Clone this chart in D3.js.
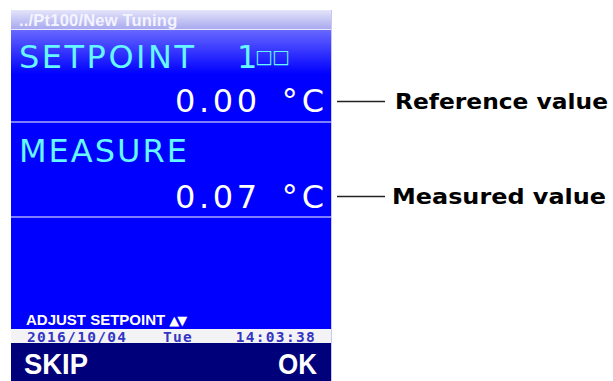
<!DOCTYPE html>
<meta charset="utf-8">
<style>
    body { margin: 0; background: #fff; }
    text { font-family: "DejaVu Sans", Verdana, sans-serif; }
</style>
<svg width="613" height="381"></svg>
<script src="https://d3js.org/d3.v7.min.js"></script>
<script>

    // screen content
    var path = "../Pt100/New Tuning";
    var rows = ["SETPOINT", "MEASURE"];
    var values = ["0.00", "0.07"];
    var unit = "°C";
    var channel = "1";
    var notes = ["Reference value", "Measured value"];
    var hint = "ADJUST SETPOINT";
    var dateParts = ["2016/10/04", "Tue", "14:03:38"];
    var keys = ["SKIP", "OK"];

    var svg = d3.select("svg"),
        scr = {left: 11, right: 331, top: 10, bottom: 381};

    var defs = svg.append("defs");
    var g1 = defs.append("linearGradient").attr("id", "hdr").attr("x1", 0).attr("x2", 0).attr("y1", 0).attr("y2", 1);
    g1.append("stop").attr("offset", "0%").attr("stop-color", "#e4e4fa");
    g1.append("stop").attr("offset", "100%").attr("stop-color", "#a9a9ef");
    var g2 = defs.append("linearGradient").attr("id", "blu").attr("x1", 0).attr("x2", 0).attr("y1", 0).attr("y2", 1);
    g2.append("stop").attr("offset", "0%").attr("stop-color", "#6a6aff");
    g2.append("stop").attr("offset", "100%").attr("stop-color", "#0000ff");

    // rows on the screen
    var y = d3.scaleLinear().domain([0, 1]).range([0, 95]);

    // blue body
    svg.append("rect").attr("x", scr.left).attr("y", 29).attr("width", scr.right - scr.left).attr("height", 301)
        .attr("fill", "#0000ff");
    svg.append("rect").attr("x", scr.left).attr("y", 29).attr("width", scr.right - scr.left).attr("height", 45)
        .attr("fill", "url(#blu)");

    // header
    svg.append("rect").attr("x", scr.left).attr("y", scr.top).attr("width", scr.right - scr.left).attr("height", 19)
        .attr("fill", "url(#hdr)");
    svg.append("line").attr("x1", scr.left).attr("x2", scr.right).attr("y1", 29.5).attr("y2", 29.5)
        .attr("stroke", "#e8e8ff").attr("stroke-width", 1);
    svg.append("text").attr("x", 19).attr("y", 26)
        .style("font-family", "'Liberation Sans', Arial, sans-serif")
        .attr("font-weight", "bold").attr("font-size", 16.5).attr("letter-spacing", 0.2).attr("fill", "#f4f4ff")
        .text(path);

    // separators
    svg.selectAll(".sep").data(rows).enter().append("line")
        .attr("class", "sep")
        .attr("x1", scr.left).attr("x2", scr.right)
        .attr("y1", function(d, i) { return 122 + y(i); })
        .attr("y2", function(d, i) { return 122 + y(i); })
        .attr("stroke", "#a8a8ff").attr("stroke-width", 1.5);

    // labels
    svg.selectAll(".lbl").data(rows).enter().append("text")
        .attr("class", "lbl")
        .attr("x", 19)
        .attr("y", function(d, i) { return 68 + y(i) * 0.99; })
        .attr("font-size", 32).attr("letter-spacing", function(d, i) { return i ? 2 : 2.5; })
        .attr("fill", "#66f6ff")
        .text(function(d) { return d; });

    svg.append("text").attr("x", 237).attr("y", 68)
        .attr("font-size", 32).attr("fill", "#66f6ff").text(channel);
    svg.append("text").attr("x", 255).attr("y", 63)
        .attr("font-size", 19).attr("letter-spacing", -1).attr("fill", "#66f6ff").text("□□");

    // values
    var vals = svg.selectAll(".val").data(values).enter().append("text")
        .attr("class", "val")
        .attr("x", 324)
        .attr("y", function(d, i) { return 112 + y(i) * 1.01; })
        .attr("text-anchor", "end")
        .attr("font-size", 32).attr("fill", "#ffffff");
    vals.append("tspan").attr("letter-spacing", 3.6).text(function(d) { return d; });
    vals.append("tspan").attr("dx", 21).attr("letter-spacing", 4).text("°");
    vals.append("tspan").text(unit.slice(1));

    // annotations
    svg.selectAll(".lead").data(notes).enter().append("line")
        .attr("class", "lead")
        .attr("x1", 337).attr("x2", 385)
        .attr("y1", function(d, i) { return 101.5 + y(i); })
        .attr("y2", function(d, i) { return 101.5 + y(i); })
        .attr("stroke", "#222").attr("stroke-width", 1.5);
    svg.selectAll(".note").data(notes).enter().append("text")
        .attr("class", "note")
        .attr("x", function(d, i) { return i ? 392 : 395; })
        .attr("y", function(d, i) { return 109 + y(i); })
        .attr("textLength", function(d, i) { return i ? 214 : 213; })
        .attr("lengthAdjust", "spacingAndGlyphs")
        .attr("font-size", 21.5).attr("font-weight", "bold").attr("fill", "#000")
        .text(function(d) { return d; });

    // hint line
    var h = svg.append("text").attr("x", 26).attr("y", 325)
        .style("font-family", "'Liberation Sans', Arial, sans-serif")
        .attr("font-weight", "bold").attr("font-size", 15).attr("fill", "#ffffff");
    h.append("tspan").text(hint + " ");
    h.append("tspan").style("font-family", "'DejaVu Sans', sans-serif").attr("font-size", 13)
        .attr("letter-spacing", -2).text("▲▼");

    // date strip
    svg.append("rect").attr("x", scr.left).attr("y", 329).attr("width", scr.right - scr.left).attr("height", 14)
        .attr("fill", "#f3f3f6");
    var dx = d3.scalePoint().domain(dateParts).range([27, 316]);
    svg.selectAll(".dt").data(dateParts).enter().append("text")
        .attr("class", "dt")
        .attr("x", function(d, i) { return i === 1 ? 163 : dx(d); })
        .attr("y", 342)
        .attr("text-anchor", function(d, i) { return i === 2 ? "end" : "start"; })
        .style("font-family", "'DejaVu Sans Mono', monospace")
        .attr("font-weight", "bold").attr("font-size", 14.5).attr("letter-spacing", 1.3)
        .attr("fill", "#3535c4")
        .text(function(d) { return d; });

    // soft keys
    svg.append("rect").attr("x", scr.left).attr("y", 343).attr("width", scr.right - scr.left).attr("height", 38)
        .attr("fill", "#00007a");
    svg.selectAll(".key").data(keys).enter().append("text")
        .attr("class", "key")
        .attr("x", function(d, i) { return i ? 278 : 24; })
        .attr("y", 374)
        .attr("textLength", function(d, i) { return i ? 39 : 64; })
        .attr("lengthAdjust", "spacingAndGlyphs")
        .style("font-family", "'Liberation Sans', Arial, sans-serif")
        .attr("font-weight", "bold").attr("font-size", 30).attr("fill", "#ffffff")
        .text(function(d) { return d; });

    // right edge
    svg.append("line").attr("x1", scr.right + 0.5).attr("x2", scr.right + 0.5).attr("y1", scr.top).attr("y2", scr.bottom)
        .attr("stroke", "#c8c8f4").attr("stroke-width", 1);

</script>
